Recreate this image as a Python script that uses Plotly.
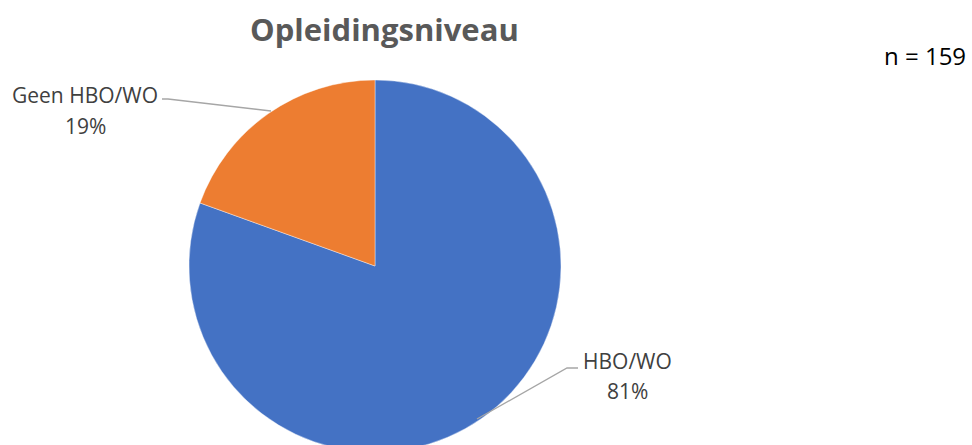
import plotly.graph_objects as go

labels = ["HBO/WO", "Geen HBO/WO"]
values = [128, 31]
colors = ["#4472C4", "#ED7D31"]
title_text = "Opleidingsniveau"
n_text = "n = 159"

W, H = 972, 460

def px(x):
    return x / W

def py(y):
    return 1 - y / H

fig = go.Figure()
fig.add_trace(go.Pie(
    labels=labels, values=values, sort=False, direction="clockwise", rotation=0,
    marker=dict(colors=colors, line=dict(color="white", width=0.4)),
    textinfo="none", hoverinfo="label+percent", showlegend=False,
    domain=dict(x=[px(189), px(561)], y=[py(452), py(80)]),
))

total = sum(values)
pcts = [round(v / total * 100) for v in values]
label_font = dict(family="Open Sans, Liberation Sans, sans-serif", size=21, color="#404040")

def ann(x, y, text, font):
    return dict(x=px(x), y=py(y), xref="paper", yref="paper", showarrow=False,
                text=text, font=font, xanchor="center", yanchor="middle")

annotations = [
    ann(85, 95, labels[1], label_font),
    ann(85, 126, f"{pcts[1]}%", label_font),
    ann(627, 361, labels[0], label_font),
    ann(627, 391, f"{pcts[0]}%", label_font),
    ann(384, 29, f"<b>{title_text}</b>",
        dict(family="Open Sans, sans-serif", size=31, color="#595959")),
    ann(925, 56, n_text, dict(family="Open Sans, sans-serif", size=24, color="#000000")),
]

shapes = [
    dict(type="path", xref="paper", yref="paper",
         path=f"M {px(162)} {py(99)} L {px(168)} {py(99)} L {px(271)} {py(111)}",
         line=dict(color="#A6A6A6", width=1.3)),
    dict(type="path", xref="paper", yref="paper",
         path=f"M {px(578)} {py(368)} L {px(567)} {py(368)} L {px(477)} {py(419)}",
         line=dict(color="#A6A6A6", width=1.3)),
]

fig.update_layout(
    width=W, height=H, margin=dict(l=0, r=0, t=0, b=0),
    paper_bgcolor="white", plot_bgcolor="white",
    annotations=annotations, shapes=shapes,
)

fig.write_html("out.html", config={"displayModeBar": False},
               post_script="document.body.style.margin='0';document.body.style.overflow='hidden';document.documentElement.style.overflow='hidden';")
